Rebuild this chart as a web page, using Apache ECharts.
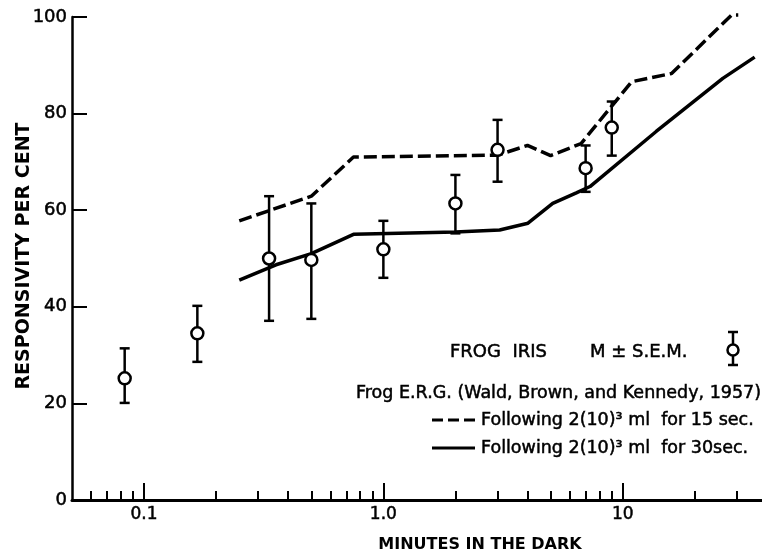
<!DOCTYPE html>
<html><head><meta charset="utf-8">
<script src="https://cdn.jsdelivr.net/npm/echarts@6/dist/echarts.min.js"></script>
<style>html,body{margin:0;padding:0;background:#fff}#c{width:762px;height:554px}</style>
</head><body><div id="c"></div>
<script>
// Frog iris responsivity, mean ± S.E.M.
const irisMinutes = [0.083, 0.167, 0.333, 0.5, 1.0, 2.0, 3.0, 7.0, 9.0];
const irisMean    = [25.2, 34.5, 50.0, 49.7, 51.9, 61.4, 72.5, 68.7, 77.1];
const irisLow     = [20.1, 28.6, 37.1, 37.5, 46.0, 55.2, 65.9, 63.8, 71.3];
const irisHigh    = [31.4, 40.2, 62.9, 61.4, 57.8, 67.3, 78.7, 73.4, 82.5];
// Frog E.R.G. following 15 sec
const erg15Minutes = [0.25, 0.5, 0.75, 3.0, 4.0, 5.0, 6.7, 10.9, 16.0, 28.5, 30.4];
const erg15Values  = [57.8, 62.9, 71.0, 71.4, 73.4, 71.3, 73.8, 86.6, 88.3, 100.4, 100.4];
// Frog E.R.G. following 30 sec
const erg30Minutes = [0.25, 0.356, 0.5, 0.75, 2.0, 3.06, 4.02, 5.1, 6.4, 7.3, 13.8, 26.2, 35.6];
const erg30Values  = [45.5, 48.7, 51.0, 55.0, 55.5, 55.9, 57.3, 61.4, 63.6, 64.9, 76.3, 87.3, 91.7];
// axis ticks
const majorTicks = [0.1, 1, 10];
const majorTickLabels = ['0.1', '1.0', '10'];
const minorTicks = [0.06, 0.07, 0.08, 0.09, 0.2, 0.3, 0.4, 0.5, 0.6, 0.7, 0.8, 0.9,
                    2, 3, 4, 5, 6, 7, 8, 9, 20, 30];
const yTicks = [0, 20, 40, 60, 80, 100];
const xMin = 0.05, xMax = 38.2;

const L = Math.log10;
const FONT = 'DejaVu Sans';
const chart = echarts.init(document.getElementById('c'), null, {renderer: 'canvas'});

const labelMap = {};
majorTicks.forEach((t, i) => { labelMap[L(t).toFixed(4)] = majorTickLabels[i]; });

function txt(text, x, y, size, opts) {
  opts = opts || {};
  return {type: 'text', x: x, y: y, rotation: opts.rotation || 0,
    style: {text: text, font: (opts.weight || 'normal') + ' ' + size + 'px "DejaVu Sans"',
            fill: '#000', stroke: '#000', lineWidth: opts.sw === undefined ? 0.5 : opts.sw,
            align: opts.align || 'left', verticalAlign: 'middle'}};
}

const option = {
  animation: false,
  backgroundColor: '#fff',
  grid: {left: 72, right: 0, top: 17, bottom: 54, containLabel: false},
  xAxis: [{
    type: 'value', min: L(xMin), max: L(xMax), position: 'bottom',
    axisLine: {show: true, onZero: false, lineStyle: {color: '#000', width: 3}},
    axisTick: {show: true, inside: true, length: 17, customValues: majorTicks.map(L),
               lineStyle: {color: '#000', width: 2}},
    axisLabel: {show: true, customValues: majorTicks.map(L), margin: 6,
                color: '#000', fontFamily: FONT, fontSize: 17,
                textBorderColor: '#000', textBorderWidth: 0.5,
                formatter: v => labelMap[v.toFixed(4)] || ''},
    splitLine: {show: false}
  }, {
    type: 'value', min: L(xMin), max: L(xMax), position: 'bottom', offset: 0,
    axisLine: {show: false, onZero: false},
    axisTick: {show: true, inside: true, length: 9, customValues: minorTicks.map(L),
               lineStyle: {color: '#000', width: 2}},
    axisLabel: {show: false},
    splitLine: {show: false}
  }],
  yAxis: {
    type: 'value', min: 0, max: 100, interval: 20,
    axisLine: {show: true, onZero: false, lineStyle: {color: '#000', width: 2.5}},
    axisTick: {show: true, inside: true, length: 15, lineStyle: {color: '#000', width: 2}},
    axisLabel: {color: '#000', fontFamily: FONT, fontSize: 18, margin: 5,
                textBorderColor: '#000', textBorderWidth: 0.5},
    splitLine: {show: false}
  },
  series: [{
    type: 'line', name: '15 sec', xAxisIndex: 0, clip: false,
    data: erg15Minutes.map((m, i) => [L(m), erg15Values[i]]),
    symbol: 'none', z: 2,
    lineStyle: {color: '#000', width: 3.5, type: [13, 5], cap: 'butt'}
  }, {
    type: 'line', name: '30 sec', xAxisIndex: 0, clip: false,
    data: erg30Minutes.map((m, i) => [L(m), erg30Values[i]]),
    symbol: 'none', z: 2,
    lineStyle: {color: '#000', width: 3.5, type: 'solid'}
  }, {
    type: 'custom', name: 'sem', xAxisIndex: 0, z: 3,
    data: irisMinutes.map((m, i) => [L(m), irisLow[i], irisHigh[i]]),
    renderItem: function (params, api) {
      const x = api.value(0);
      const p1 = api.coord([x, api.value(1)]);
      const p2 = api.coord([x, api.value(2)]);
      const s = {stroke: '#000', lineWidth: 2.5};
      return {type: 'group', children: [
        {type: 'line', shape: {x1: p1[0], y1: p1[1], x2: p2[0], y2: p2[1]}, style: s},
        {type: 'line', shape: {x1: p1[0] - 5, y1: p1[1], x2: p1[0] + 5, y2: p1[1]}, style: s},
        {type: 'line', shape: {x1: p2[0] - 5, y1: p2[1], x2: p2[0] + 5, y2: p2[1]}, style: s}
      ]};
    }
  }, {
    type: 'scatter', name: 'iris', xAxisIndex: 0, z: 4,
    data: irisMinutes.map((m, i) => [L(m), irisMean[i]]),
    symbol: 'circle', symbolSize: 12,
    itemStyle: {color: '#fff', opacity: 1, borderColor: '#000', borderWidth: 2.5},
    emphasis: {disabled: true}
  }],
  graphic: [
    txt('RESPONSIVITY PER CENT', 24, 256, 19, {rotation: Math.PI / 2, align: 'center', weight: 'bold', sw: 0}),
    txt('MINUTES IN THE DARK', 480, 545, 16, {align: 'center', weight: 'bold', sw: 0}),
    txt('FROG  IRIS', 450, 352, 18),
    txt('M ± S.E.M.', 590, 352, 18),
    {type: 'line', shape: {x1: 733, y1: 332, x2: 733, y2: 365}, style: {stroke: '#000', lineWidth: 2.5}},
    {type: 'line', shape: {x1: 728, y1: 332, x2: 738, y2: 332}, style: {stroke: '#000', lineWidth: 2.5}},
    {type: 'line', shape: {x1: 728, y1: 365, x2: 738, y2: 365}, style: {stroke: '#000', lineWidth: 2.5}},
    {type: 'circle', shape: {cx: 733, cy: 350, r: 5.5}, style: {fill: '#fff', stroke: '#000', lineWidth: 2.5}},
    txt('Frog E.R.G. (Wald, Brown, and Kennedy, 1957)', 356, 393, 17.5),
    {type: 'line', shape: {x1: 432, y1: 420, x2: 475, y2: 420},
     style: {stroke: '#000', lineWidth: 3, lineDash: [11, 5]}},
    txt('Following 2(10)³ ml  for 15 sec.', 481, 420, 17.5),
    {type: 'line', shape: {x1: 432, y1: 448, x2: 475, y2: 448},
     style: {stroke: '#000', lineWidth: 3}},
    txt('Following 2(10)³ ml  for 30sec.', 481, 448, 17.5)
  ]
};
chart.setOption(option);
</script>
</body></html>
